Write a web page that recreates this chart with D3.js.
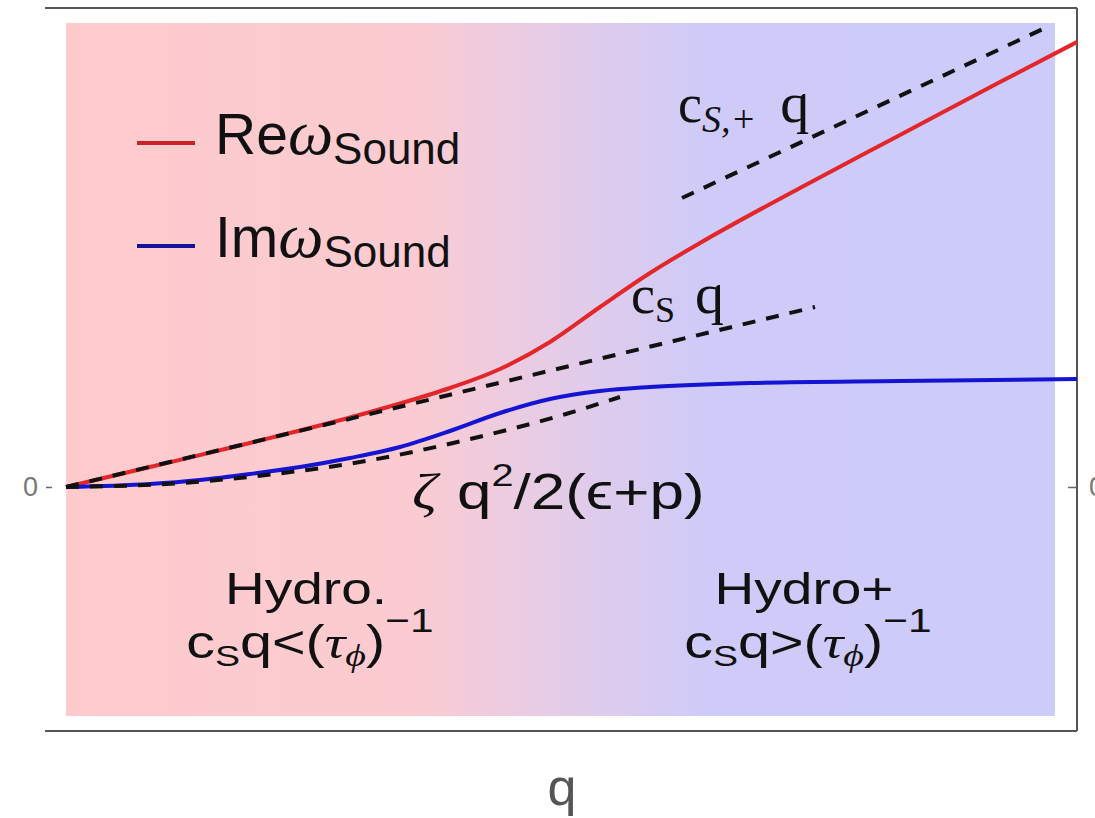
<!DOCTYPE html>
<html>
<head>
<meta charset="utf-8">
<script src="https://cdn.jsdelivr.net/npm/d3@7"></script>
<style>
  html, body { margin: 0; padding: 0; background: #fff; }
  svg { display: block; }
</style>
</head>
<body>
<svg id="chart" width="1095" height="818"></svg>
<script>
// Sound-mode dispersion: real and imaginary parts of omega versus momentum q
const q_re = [0, 0.84, 1.84, 2.34, 2.84, 3.34, 3.84, 4.34, 4.84, 5.34, 5.84, 6.34, 7.34, 8.34, 9.34, 10.11];
const reOmega = [0, 0.20, 0.44, 0.565, 0.695, 0.835, 0.99, 1.18, 1.45, 1.80, 2.14, 2.44, 2.99, 3.52, 4.05, 4.45];

const q_im = [0, 0.84, 1.34, 1.84, 2.34, 2.84, 3.34, 3.84, 4.34, 4.84, 5.34, 5.84, 6.84, 8.34, 10.11];
const imOmega = [0, 0.03, 0.07, 0.13, 0.20, 0.29, 0.40, 0.56, 0.74, 0.88, 0.96, 1.00, 1.04, 1.06, 1.08];

// Asymptotic approximations (dashed)
const q_cs = [0, 7.49];
const csLine = [0, 1.80];
const q_csPlus = [6.16, 9.81];
const csPlusLine = [2.89, 4.60];
const q_bulk = [0, 1, 2, 3, 4, 5, 5.54];
const bulkLine = [0, 0.03, 0.12, 0.26, 0.47, 0.73, 0.90];

const yTicks = [0];
const yTickLabels = ["0"];

const svg = d3.select("#chart");

const x = d3.scaleLinear().domain([0, 10.11]).range([66, 1077]);
const y = d3.scaleLinear().domain([-2.44, 4.79]).range([731, 8]);

const sans = "Liberation Sans, Arial, sans-serif";
const serif = "Liberation Serif, Times New Roman, serif";

// Background: hydro (pink) to hydro+ (lavender) gradient
const defs = svg.append("defs");
const grad = defs.append("linearGradient").attr("id", "regime")
  .attr("x1", "0").attr("x2", "1").attr("y1", "0").attr("y2", "0");
grad.append("stop").attr("offset", "0").attr("stop-color", "#fecbcd");
grad.append("stop").attr("offset", "0.35").attr("stop-color", "#fbcbd1");
grad.append("stop").attr("offset", "0.47").attr("stop-color", "#e9cce3");
grad.append("stop").attr("offset", "0.64").attr("stop-color", "#cfcbf8");
grad.append("stop").attr("offset", "1").attr("stop-color", "#cccbfa");

svg.append("rect")
  .attr("x", 66).attr("y", 23).attr("width", 1055 - 66).attr("height", 716 - 23)
  .attr("fill", "url(#regime)");

// Frame
const frame = svg.append("g").attr("stroke", "#555").attr("stroke-width", 2).attr("fill", "none");
frame.append("line").attr("x1", 45).attr("x2", 1077).attr("y1", 8).attr("y2", 8);
frame.append("line").attr("x1", 45).attr("x2", 1077).attr("y1", 731).attr("y2", 731);
frame.append("line").attr("x1", 1077).attr("x2", 1077).attr("y1", 8).attr("y2", 731);

// Left and right y axes (single zero tick)
const leftAxis = d3.axisLeft(y).tickValues(yTicks).tickFormat((d, i) => yTickLabels[i]).tickSize(6).tickPadding(8);
const gl = svg.append("g").attr("transform", "translate(52,0)").call(leftAxis);
gl.select(".domain").remove();
gl.selectAll("line").attr("stroke", "#666").attr("stroke-width", 1.5);
gl.selectAll("text").attr("font-family", sans).attr("font-size", 27).attr("fill", "#777");

const rightAxis = d3.axisRight(y).tickValues(yTicks).tickFormat((d, i) => yTickLabels[i]).tickSize(8).tickPadding(4);
const gr = svg.append("g").attr("transform", "translate(1077,0)").call(rightAxis);
gr.select(".domain").remove();
gr.selectAll("line").attr("stroke", "#666").attr("stroke-width", 1.5).attr("x2", -9);
gr.selectAll("text").attr("font-family", sans).attr("font-size", 27).attr("fill", "#777");

// Curves
const smooth = d3.line().x(d => x(d[0])).y(d => y(d[1])).curve(d3.curveMonotoneX);
const straight = d3.line().x(d => x(d[0])).y(d => y(d[1]));
const zip = (a, b) => a.map((v, i) => [v, b[i]]);

svg.append("path").datum(zip(q_re, reOmega)).attr("d", smooth)
  .attr("fill", "none").attr("stroke", "#e3262a").attr("stroke-width", 4);
svg.append("path").datum(zip(q_im, imOmega)).attr("d", smooth)
  .attr("fill", "none").attr("stroke", "#1414d2").attr("stroke-width", 4);

const dashed = svg.append("g").attr("fill", "none").attr("stroke", "#111")
  .attr("stroke-width", 4).attr("stroke-dasharray", "13,11");
dashed.append("path").datum(zip(q_cs, csLine)).attr("d", straight);
dashed.append("path").datum(zip(q_csPlus, csPlusLine)).attr("d", straight);
dashed.append("path").datum(zip(q_bulk, bulkLine)).attr("d", smooth);

// Legend
const legend = [
  { label: "Re", color: "#c8232a", y: 143 },
  { label: "Im", color: "#12129a", y: 246 }
];
legend.forEach(l => {
  svg.append("line").attr("x1", 137).attr("x2", 195).attr("y1", l.y).attr("y2", l.y)
    .attr("stroke", l.color).attr("stroke-width", 4);
  const t = svg.append("text").attr("x", 215).attr("y", l.y + 11)
    .attr("font-family", sans).attr("font-size", 57).attr("fill", "#111");
  t.append("tspan").text(l.label);
  t.append("tspan").attr("font-family", serif).attr("font-style", "italic").attr("font-size", 64).text("ω");
  t.append("tspan").attr("font-size", 44).attr("dy", 10).text("Sound");
});

// Helper: text group stretched horizontally around its anchor
function stretched(px, py, sx) {
  return svg.append("g").attr("transform", `translate(${px},${py}) scale(${sx},1)`);
}

// Asymptote labels
const csPlus = svg.append("text").attr("x", 678).attr("y", 122)
  .attr("font-family", serif).attr("font-size", 54).attr("fill", "#111");
csPlus.append("tspan").text("c");
csPlus.append("tspan").attr("font-size", 38).attr("font-style", "italic").attr("dy", 10).text("S,+");
csPlus.append("tspan").attr("dy", -10).attr("dx", 24).attr("font-size", 58).text("q");

const csLab = svg.append("text").attr("x", 631).attr("y", 313)
  .attr("font-family", serif).attr("font-size", 54).attr("fill", "#111");
csLab.append("tspan").text("c");
csLab.append("tspan").attr("font-size", 36).attr("dy", 9).text("S");
csLab.append("tspan").attr("dy", -9).attr("dx", 20).attr("font-size", 58).text("q");

const bulk = stretched(412, 509, 1.24).append("text")
  .attr("font-family", sans).attr("font-size", 50).attr("fill", "#111");
bulk.append("tspan").attr("font-family", serif).attr("font-style", "italic").text("ζ");
bulk.append("tspan").attr("dx", 16).text("q");
bulk.append("tspan").attr("font-size", 32).attr("dy", -23).text("2");
bulk.append("tspan").attr("dy", 23).text("/2(ϵ+p)");

// Regime labels
function regime(cx, name, rel) {
  stretched(cx, 604, 1.25).append("text").attr("text-anchor", "middle")
    .attr("font-family", sans).attr("font-size", 44).attr("fill", "#111").text(name);
  const t = stretched(cx + 4, 658, 1.25).append("text").attr("text-anchor", "middle")
    .attr("font-family", sans).attr("font-size", 46).attr("fill", "#111");
  t.append("tspan").text("c");
  t.append("tspan").attr("font-size", 30).attr("dy", 8).text("S");
  t.append("tspan").attr("dy", -8).text("q" + rel + "(");
  t.append("tspan").attr("font-family", serif).attr("font-style", "italic").text("τ");
  t.append("tspan").attr("font-family", serif).attr("font-style", "italic").attr("font-size", 32).attr("dy", 8).text("ϕ");
  t.append("tspan").attr("dy", -8).text(")");
  t.append("tspan").attr("font-size", 34).attr("dy", -26).text("−1");
}
regime(306, "Hydro.", "<");
regime(804, "Hydro+", ">");

// x-axis title
svg.append("text").attr("x", 562).attr("y", 805).attr("text-anchor", "middle")
  .attr("font-family", sans).attr("font-size", 52).attr("fill", "#555").text("q");
</script>
</body>
</html>
